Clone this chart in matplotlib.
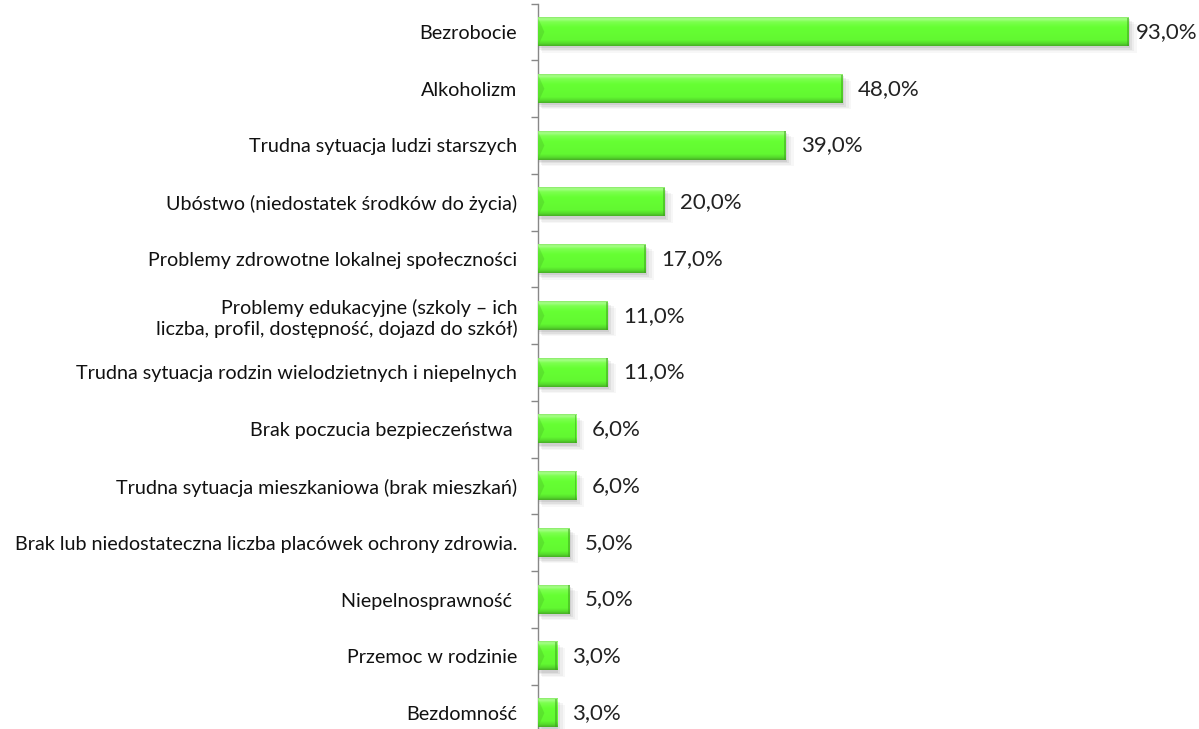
import matplotlib
matplotlib.use("Agg")
import matplotlib.pyplot as plt
import numpy as np
from matplotlib.colors import LinearSegmentedColormap

categories = [
    "Bezrobocie",
    "Alkoholizm",
    "Trudna sytuacja ludzi starszych",
    "Ubóstwo (niedostatek środków do życia)",
    "Problemy zdrowotne lokalnej społeczności",
    "Problemy edukacyjne (szkoly – ich\nliczba, profil, dostępność, dojazd do szkół)",
    "Trudna sytuacja rodzin wielodzietnych i niepelnych",
    "Brak poczucia bezpieczeństwa ",
    "Trudna sytuacja mieszkaniowa (brak mieszkań)",
    "Brak lub niedostateczna liczba placówek ochrony zdrowia.",
    "Niepelnosprawność ",
    "Przemoc w rodzinie",
    "Bezdomność",
]
values = [93.0, 48.0, 39.0, 20.0, 17.0, 11.0, 11.0, 6.0, 6.0, 5.0, 5.0, 3.0, 3.0]
value_labels = ["93,0%", "48,0%", "39,0%", "20,0%", "17,0%", "11,0%", "11,0%",
                "6,0%", "6,0%", "5,0%", "5,0%", "3,0%", "3,0%"]

plt.rcParams['font.family'] = ['Lato', 'DejaVu Sans']

W, H = 1199, 729
fig = plt.figure(figsize=(W / 100, H / 100), dpi=100)
left_px, right_px = 538, 1173
top_px, bot_px = 3.6, 741.4
ax = fig.add_axes([left_px / W, (H - bot_px) / H, (right_px - left_px) / W, (bot_px - top_px) / H])

n = len(categories)
y = np.arange(n)
bh = 0.5
bars = ax.barh(y, values, height=bh, color='#66FF33', edgecolor='none', zorder=3)

ax.set_xlim(0, 100)
ax.set_ylim(n - 0.5, -0.5)

# shadows
dx = 0.45
for b in bars:
    x0, y0, w, h = b.get_x(), b.get_y(), b.get_width(), b.get_height()
    for k, a in zip(range(4), [0.14, 0.10, 0.07, 0.05]):
        ax.add_patch(plt.Rectangle((x0 + dx * (k * 0.5), y0 + 0.03 + k * 0.025), w + dx * (0.4 + k * 0.3), h + 0.01,
                                   facecolor='#707070', alpha=a, edgecolor='none', zorder=2))

# gradient fill
cmap = LinearSegmentedColormap.from_list('g', [
    (0.0, '#8CEB6A'), (0.06, '#A6FF88'), (0.16, '#7CFF4F'), (0.35, '#66FF33'),
    (0.80, '#62F831'), (0.92, '#55D82C'), (1.0, '#46B024')])
grad = np.linspace(0, 1, 64).reshape(-1, 1)
for b in bars:
    x0, y0, w, h = b.get_x(), b.get_y(), b.get_width(), b.get_height()
    ax.imshow(grad, cmap=cmap, aspect='auto', extent=(x0, x0 + w, y0 + h, y0),
              origin='upper', zorder=4, interpolation='bilinear')
    ax.add_patch(plt.Polygon([(x0, y0), (x0 + 1.0, y0 + h * 0.5), (x0, y0 + h)],
                             closed=True, facecolor='#3FA020', alpha=0.25, edgecolor='none', zorder=5))
    ax.add_patch(plt.Rectangle((x0 + w - 0.25, y0), 0.25, h, facecolor='#3E9E1F', alpha=0.5,
                               edgecolor='none', zorder=5))
    b.set_visible(False)

for b, lab in zip(bars, value_labels):
    off = 5 if b.get_width() > 90 else 11
    ax.annotate(lab, (b.get_width(), b.get_y() + b.get_height() / 2), xytext=(off, 0),
                textcoords='offset points', va='center', ha='left', fontsize=16, color='#222222')

ax.set_yticks(y)
ax.set_yticklabels(categories, fontsize=14.2, color='#111111', linespacing=1.15)
ax.tick_params(axis='y', which='major', length=0, pad=15)
ax.set_yticks(np.arange(n + 1) - 0.5, minor=True)
ax.tick_params(axis='y', which='minor', length=5, color='#888888', width=1)
ax.set_xticks([])
for s in ['top', 'right', 'bottom']:
    ax.spines[s].set_visible(False)
ax.spines['left'].set_color('#888888')
ax.spines['left'].set_linewidth(1)
ax.set_facecolor('none')

fig.savefig('out.png', dpi=100, facecolor='white')
